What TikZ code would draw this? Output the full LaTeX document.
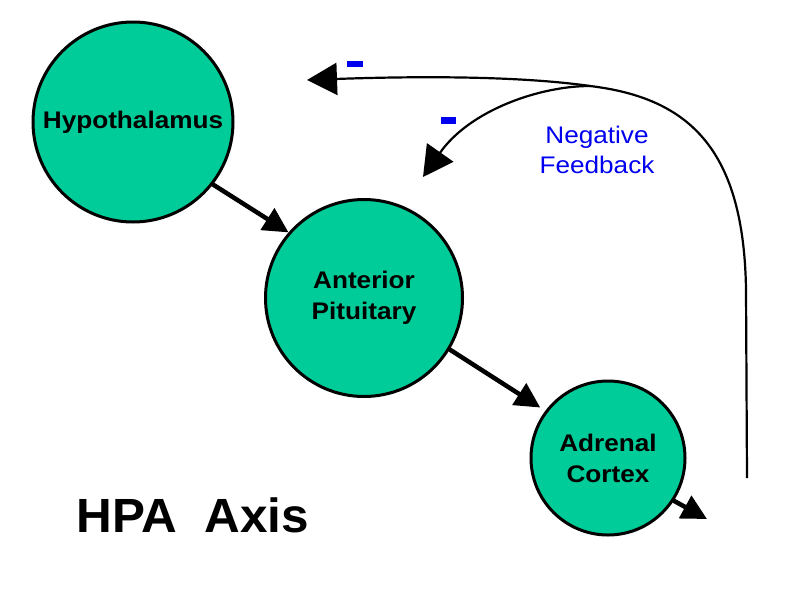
\documentclass[tikz,border=0pt]{standalone}
\usepackage{fontspec}
\setmainfont{Liberation Sans}
\newfontfamily\wide[FakeStretch=1.09]{Liberation Sans}
\newfontfamily\widetitle[FakeStretch=1.03]{Liberation Sans}
\usetikzlibrary{arrows.meta,calc}
\definecolor{organ}{RGB}{0,204,153}
\definecolor{fbblue}{RGB}{0,0,240}
\tikzset{
  organnode/.style={circle,draw=black,line width=3pt,fill=organ,inner sep=0pt,
    font=\wide\bfseries\fontsize{24}{31}\selectfont,align=center},
  flow/.style={line width=4.5pt,-{Triangle[length=25pt,width=25pt]}},
  fb/.style={line width=2.2pt,-{Triangle[length=30pt,width=32pt]}},
  minus/.style={fill=fbblue,draw=none}
}
\begin{document}
\begin{tikzpicture}[x=1pt,y=-1pt]
\useasboundingbox[fill=white] (0,0) rectangle (800,600);
\node[organnode,minimum size=200pt] (hyp) at (133,122) {Hypothalamus};
\node[organnode,minimum size=197pt] (ap) at (364,298) {Anterior\\Pituitary};
\node[organnode,minimum size=154pt] (ac) at (608,458) {Adrenal\\Cortex};
\coordinate (out) at (707,519);
\coordinate (fbstart) at (747,478);
\coordinate (join) at (590,86);
\coordinate (tipA) at (307,80);
\coordinate (tipB) at (423,177);
\draw[flow,shorten <=-2pt] (hyp.-38) -- (ap.139);
\draw[flow,shorten <=-2pt,shorten >=6pt] (ap.-31) -- (ac.143);
\draw[flow,shorten <=-2pt] (ac.-33) -- (out);
\draw[fb] (fbstart) -- (746,290) .. controls (744,150) and (690,98) .. (join)
  .. controls (520,76) and (420,76) .. (tipA);
\draw[fb] (join) .. controls (540,86) and (470,110) .. (tipB);
\fill[minus] (347,61) rectangle (363,67);
\fill[minus] (441,117) rectangle (456,124);
\node[text=fbblue,font=\wide\fontsize{24}{30}\selectfont,align=center] (fbl) at (597,150) {Negative\\Feedback};
\node[font=\widetitle\bfseries\fontsize{48}{56}\selectfont,anchor=west] (hpa) at (73,515) {HPA\ \ Axis};
\end{tikzpicture}
\end{document}
